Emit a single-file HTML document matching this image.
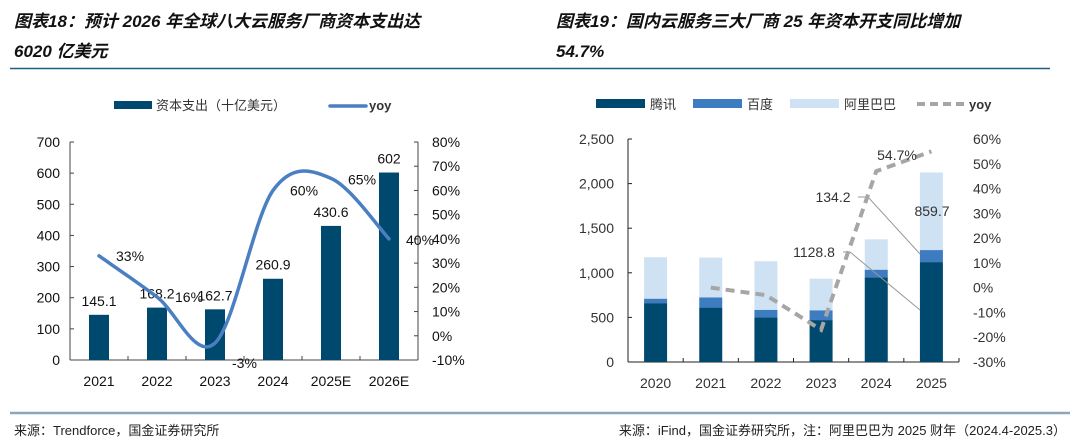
<!DOCTYPE html>
<html><head><meta charset="utf-8"><style>
body{margin:0;background:#fff;}
svg{display:block;font-family:"Liberation Sans","Noto Sans CJK SC",sans-serif;}
.t{font-weight:bold;font-style:italic;font-size:17px;fill:#111;}
.ax{font-size:14px;fill:#111;}
.ax2{font-size:14px;fill:#333;}
.lb{font-size:14px;fill:#111;}
</style></head><body>
<svg id="s" width="1080" height="444">
<g>
<text class="t" x="14" y="27">图表18：预计 2026 年全球八大云服务厂商资本支出达</text>
<text class="t" x="14" y="57">6020 亿美元</text></g>
<line x1="10" y1="68.5" x2="540" y2="68.5" stroke="#1f5f85" stroke-width="1.5"/>
<g>
<text class="t" x="556" y="27">图表19：国内云服务三大厂商 25 年资本开支同比增加</text>
<text class="t" x="556" y="57">54.7%</text></g>
<line x1="540" y1="68.5" x2="1050" y2="68.5" stroke="#1f5f85" stroke-width="1.5"/>
<line x1="10" y1="413" x2="1070" y2="413" stroke="#8aa6ba" stroke-width="2.5"/>
<text x="14" y="435" font-size="13" fill="#222">来源：Trendforce，国金证券研究所</text>
<text x="1066" y="435" font-size="13" fill="#222" text-anchor="end">来源：iFind，国金证券研究所，注：阿里巴巴为 2025 财年（2024.4-2025.3）</text>
<g id="L"></g><g id="R"></g>
</svg>
<script>
const NS="http://www.w3.org/2000/svg";
// Left chart data
const lCats=["2021","2022","2023","2024","2025E","2026E"];
const lCapex=[145.1,168.2,162.7,260.9,430.6,602];
const lCapexLabels=["145.1","168.2","162.7","260.9","430.6","602"];
const lYoy=[33,16,-3,60,65,40];
const lYTicks=[0,100,200,300,400,500,600,700];
const lY2Ticks=[-10,0,10,20,30,40,50,60,70,80];
// Right chart data
const rCats=["2020","2021","2022","2023","2024","2025"];
const rTencent=[660,610,500,470,950,1120];
const rBaidu=[50,115,85,110,85,135];
const rAli=[465,445,545,355,340,870];
const rYoy=[null,0,-3,-17,47,55];
const rYTicks=[0,500,1000,1500,2000,2500];
const rY2Ticks=[-30,-20,-10,0,10,20,30,40,50,60];

function el(p,t,a,txt){const e=document.createElementNS(NS,t);for(const k in a)e.setAttribute(k,a[k]);if(txt!=null)e.textContent=txt;p.appendChild(e);return e;}

// ---- Left
(function(){
const g=document.getElementById('L');
const x0=70,x1=418,yT=142,yB=360;
const cw=(x1-x0)/lCats.length;
const y=v=>yB-(v/700)*(yB-yT);
const y2=v=>yB-((v+10)/90)*(yB-yT);
const cx=i=>x0+cw*(i+0.5);
let lg=el(g,'g',{});
el(lg,'rect',{x:114,y:101,width:38,height:8,fill:'#00496e'});
el(lg,'text',{x:156,y:110,'font-size':13,fill:'#333'},'资本支出（十亿美元）');
let lg2=el(g,'g',{});
el(lg2,'line',{x1:330,y1:106,x2:366,y2:106,stroke:'#4a7fc1','stroke-width':3.5,'stroke-linecap':'round'});
el(lg2,'text',{x:369,y:110,'font-size':13,fill:'#333','font-weight':'bold'},'yoy');
el(g,'line',{x1:x0,y1:yT,x2:x0,y2:yB,stroke:'#444'});
el(g,'line',{x1:x1,y1:yT,x2:x1,y2:yB,stroke:'#444'});
el(g,'line',{x1:x0,y1:yB,x2:x1,y2:yB,stroke:'#444'});
lYTicks.forEach(v=>{el(g,'line',{x1:x0,y1:y(v),x2:x0+4,y2:y(v),stroke:'#444'});
 const t=el(g,'text',{x:x0-10,y:y(v)+5,'text-anchor':'end',class:'ax'},v);});
lY2Ticks.forEach(v=>{el(g,'line',{x1:x1-4,y1:y2(v),x2:x1,y2:y2(v),stroke:'#444'});
 const t=el(g,'text',{x:x1+14,y:y2(v)+5,class:'ax'},v+'%');});
for(let i=0;i<=lCats.length;i++)el(g,'line',{x1:x0+cw*i,y1:yB,x2:x0+cw*i,y2:yB-4,stroke:'#444'});
lCats.forEach((c,i)=>{const t=el(g,'text',{x:cx(i),y:yB+26,'text-anchor':'middle',class:'ax'},c);});
lCapex.forEach((v,i)=>{const r=el(g,'rect',{x:cx(i)-10,y:y(v),width:20,height:yB-y(v),fill:'#00496e'});
 
 const t=el(g,'text',{x:cx(i),y:y(v)-9,'text-anchor':'middle',class:'lb'},lCapexLabels[i]);});
const P=lYoy.map((v,i)=>[cx(i),y2(v)]);
let d='M'+P[0][0]+','+P[0][1];
for(let i=0;i<P.length-1;i++){const p0=P[i-1]||P[i],p1=P[i],p2=P[i+1],p3=P[i+2]||p2;
 d+=` C${p1[0]+(p2[0]-p0[0])/6},${p1[1]+(p2[1]-p0[1])/6} ${p2[0]-(p3[0]-p1[0])/6},${p2[1]-(p3[1]-p1[1])/6} ${p2[0]},${p2[1]}`;}
const ln=el(g,'path',{d:d,fill:'none',stroke:'#4a7fc1','stroke-width':3.5,'stroke-linecap':'round'});

const off=[[17,5],[18,5],[17,25],[17,5],[17,6],[17,6]];
lYoy.forEach((v,i)=>{const t=el(g,'text',{x:P[i][0]+off[i][0],y:P[i][1]+off[i][1],class:'lb'},v+'%');
 });
})();

// ---- Right
(function(){
const g=document.getElementById('R');
const x0=628,x1=959,yT=139,yB=362;
const cw=(x1-x0)/rCats.length;
const y=v=>yB-(v/2500)*(yB-yT);
const y2=v=>yB-((v+30)/90)*(yB-yT);
const cx=i=>x0+cw*(i+0.5);
const leg=[['腾讯','#00496e',596],['百度','#3d7cc0',693],['阿里巴巴','#cfe2f3',790]];
leg.forEach(l=>{const lg=el(g,'g',{});
 el(lg,'rect',{x:l[2],y:99,width:49,height:9,fill:l[1]});el(lg,'text',{x:l[2]+54,y:109,'font-size':13,fill:'#333'},l[0]);});
const lgy=el(g,'g',{});
el(lgy,'line',{x1:917,y1:104,x2:965,y2:104,stroke:'#a6a6a6','stroke-width':4,'stroke-dasharray':'8,5'});
el(lgy,'text',{x:969,y:109,'font-size':13,fill:'#333','font-weight':'bold'},'yoy');
el(g,'line',{x1:x0,y1:yT,x2:x0,y2:yB,stroke:'#222'});
el(g,'line',{x1:x0,y1:yB,x2:x1,y2:yB,stroke:'#222'});
rYTicks.forEach(v=>{el(g,'line',{x1:x0,y1:y(v),x2:x0+4,y2:y(v),stroke:'#222'});
 const t=el(g,'text',{x:x0-14,y:y(v)+5,'text-anchor':'end',class:'ax2'},v.toLocaleString('en-US'));});
rY2Ticks.forEach(v=>{const t=el(g,'text',{x:973,y:y2(v)+5,class:'ax2'},v+'%');});
for(let i=0;i<=rCats.length;i++)el(g,'line',{x1:x0+cw*i,y1:yB,x2:x0+cw*i,y2:yB-4,stroke:'#222'});
rCats.forEach((c,i)=>{const t=el(g,'text',{x:cx(i),y:yB+26,'text-anchor':'middle',class:'ax2'},c);});
rCats.forEach((c,i)=>{let base=0;[[rTencent,'#00496e','tencent'],[rBaidu,'#3d7cc0','baidu'],[rAli,'#cfe2f3','alibaba']].forEach(s=>{
 const v=s[0][i];const r=el(g,'rect',{x:cx(i)-11.5,y:y(base+v),width:23,height:y(base)-y(base+v),fill:s[1]});
 base+=v;});});
el(g,'polyline',{points:'858,197 868,197 920,254',fill:'none',stroke:'#999','stroke-width':1});
el(g,'polyline',{points:'843,252 850,252 920,310',fill:'none',stroke:'#999','stroke-width':1});
let pts=[];rYoy.forEach((v,i)=>{if(v!=null)pts.push(cx(i)+','+y2(v));});
const pl=el(g,'polyline',{points:pts.join(' '),fill:'none',stroke:'#a6a6a6','stroke-width':4,'stroke-dasharray':'9,6'});

[['134.2',833,202],['1128.8',814,257],['54.7%',897,160],['859.7',932,216]].forEach(a=>{
 const t=el(g,'text',{x:a[1],y:a[2],'text-anchor':'middle',class:'ax2'},a[0]);});
})();
</script>
</body></html>
